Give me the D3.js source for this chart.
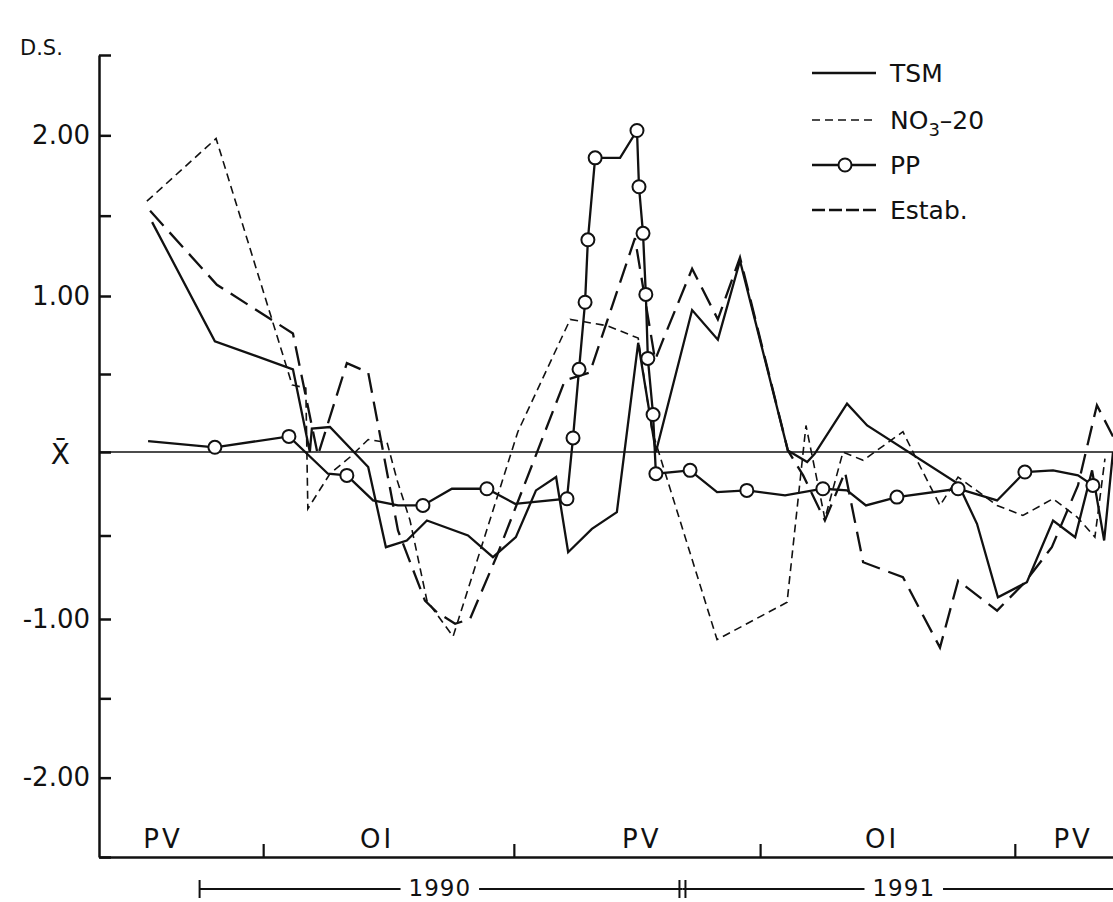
<!DOCTYPE html>
<meta charset="utf-8">
<html>
<script src="https://d3js.org/d3.v7.min.js"></script>
<style>
  body { margin: 0; background: #fff; }
  text { font-family: "DejaVu Sans", sans-serif; fill: #111; }
</style>
<body>
<div id="chart"></div>
<script>

// time in months counted from the start of 1990, values in standard deviations (D.S.)
const tsmMonth = [-1.18, 0.38, 2.32, 2.74, 2.79, 3.24, 4.19, 4.63, 5.15, 5.65, 6.67, 7.29, 7.86, 8.36, 8.86, 9.16, 9.75, 10.37, 10.90, 11.34, 12.24, 12.88, 13.43, 14.62, 15.10, 15.29, 16.09, 16.59, 18.85, 19.32, 19.84, 20.56, 21.21, 21.76, 22.18, 22.48, 22.70];
const tsmValue = [1.46, 0.71, 0.53, 0.00, 0.15, 0.16, -0.09, -0.57, -0.53, -0.41, -0.50, -0.63, -0.51, -0.23, -0.15, -0.60, -0.46, -0.36, 0.70, 0.00, 0.91, 0.72, 1.22, 0.01, -0.06, -0.01, 0.31, 0.17, -0.19, -0.43, -0.87, -0.78, -0.41, -0.51, -0.11, -0.53, 0.00];

const no3Month = [-1.31, 0.41, 2.30, 2.64, 2.69, 3.24, 3.74, 4.19, 4.66, 4.91, 5.23, 5.65, 6.30, 7.91, 9.21, 10.12, 10.90, 11.24, 12.86, 14.60, 15.07, 15.54, 15.99, 16.49, 17.48, 17.83, 18.40, 18.85, 19.82, 20.46, 21.21, 21.81, 22.25, 22.50];
const no3Value = [1.59, 1.98, 0.43, 0.41, -0.34, -0.13, -0.03, 0.08, 0.06, -0.17, -0.41, -0.89, -1.11, 0.13, 0.85, 0.81, 0.73, 0.14, -1.13, -0.90, 0.17, -0.40, 0.00, -0.05, 0.13, -0.05, -0.32, -0.15, -0.32, -0.38, -0.28, -0.39, -0.51, -0.04];

const ppMonth = [-1.28, 0.38, 2.22, 3.19, 3.66, 4.31, 4.93, 5.55, 6.27, 7.14, 7.84, 9.13, 9.28, 9.43, 9.58, 9.65, 9.83, 10.45, 10.87, 10.92, 11.02, 11.09, 11.14, 11.27, 11.34, 12.19, 12.86, 13.60, 14.55, 15.49, 16.09, 16.56, 17.33, 18.85, 19.82, 20.51, 21.21, 21.83, 22.20];
const ppValue = [0.07, 0.03, 0.10, -0.13, -0.14, -0.29, -0.32, -0.32, -0.22, -0.22, -0.31, -0.28, 0.09, 0.53, 0.96, 1.35, 1.86, 1.86, 2.03, 1.68, 1.39, 1.01, 0.60, 0.24, -0.13, -0.11, -0.24, -0.23, -0.26, -0.22, -0.23, -0.32, -0.27, -0.22, -0.29, -0.12, -0.11, -0.14, -0.20];
// 1 = measured (drawn with a circle)
const ppSampled = [0, 1, 1, 0, 1, 0, 0, 1, 0, 1, 0, 1, 1, 1, 1, 1, 1, 0, 1, 1, 1, 1, 1, 1, 1, 1, 0, 1, 0, 1, 0, 0, 1, 1, 0, 1, 0, 0, 1];

const estabMonth = [-1.23, 0.43, 2.32, 2.94, 3.66, 4.19, 4.93, 5.60, 5.90, 6.35, 6.72, 7.39, 9.08, 9.70, 10.82, 11.32, 11.52, 12.24, 12.88, 13.43, 14.62, 15.00, 15.54, 16.04, 16.49, 17.48, 18.40, 18.85, 19.82, 20.51, 21.18, 21.83, 22.30, 22.70];
const estabValue = [1.53, 1.07, 0.76, -0.02, 0.57, 0.51, -0.47, -0.89, -0.96, -1.03, -1.00, -0.62, 0.46, 0.51, 1.36, 0.59, 0.72, 1.17, 0.85, 1.24, 0.01, -0.14, -0.41, -0.12, -0.66, -0.75, -1.18, -0.77, -0.95, -0.78, -0.57, -0.20, 0.30, 0.10];

// axis text
const yTicks = [-2.5, -2, -1.5, -1, -0.5, 0, 0.5, 1, 1.5, 2, 2.5];
const yTickText = ["", "-2.00", "", "-1.00", "", "X\u0304", "", "1.00", "", "2.00", ""];
const seasonBounds = [1.58, 7.81, 13.93, 20.26];
const seasonNames = ["PV", "OI", "PV", "OI", "PV"];
const seasonAt = [-0.91, 4.41, 10.99, 16.96, 21.71];
const yearNames = ["1990", "1991"];
const yearStart = [0, 12];
const yearEnd = [12, 22.7];
const yearAt = [5.97, 17.5];
const legendNames = ["TSM", "NO3-20", "PP", "Estab."];

const width = 1113, height = 902;
const ink = "#111";

const svg = d3.select("#chart").append("svg")
    .attr("width", width)
    .attr("height", height);

const x = d3.scaleLinear().domain([-2.5, 22.7]).range([99, 1113]);
// the printed axis is slightly uneven, so the scale follows its tick marks
const y = d3.scaleLinear().domain([-2.5, -1, 0, 1, 2.5]).range([857, 619, 452, 296, 55]);

// y axis
const gy = svg.append("g")
    .attr("transform", "translate(99,0)")
    .call(d3.axisLeft(y).tickValues(yTicks).tickSize(-12).tickSizeOuter(0).tickPadding(9)
        .tickFormat((d, i) => yTickText[i]));
gy.attr("font-family", null).attr("font-size", null).attr("color", ink);
gy.select(".domain").attr("stroke-width", 2.5);
gy.selectAll(".tick line").attr("stroke-width", 2.5);
gy.selectAll(".tick text").style("font-size", "26px");
gy.selectAll(".tick text").filter(d => d === 0)
    .attr("x", -29).attr("dy", "0.42em").style("font-size", "28px");

// x axis
const gx = svg.append("g")
    .attr("transform", "translate(0,857)")
    .call(d3.axisBottom(x).tickValues(seasonBounds).tickSize(-13).tickSizeOuter(0).tickFormat(""));
gx.attr("color", ink);
gx.select(".domain").attr("stroke-width", 2.5);
gx.selectAll(".tick line").attr("stroke-width", 2.2);

svg.selectAll(".season")
  .data(seasonNames)
  .join("text")
    .attr("class", "season")
    .attr("x", (d, i) => x(seasonAt[i]))
    .attr("y", 848)
    .attr("text-anchor", "middle")
    .style("font-size", "26px")
    .style("letter-spacing", "3px")
    .text(d => d);

// year bar under the axis
const yearY = 889;
yearNames.forEach((name, i) => {
  svg.append("line")
    .attr("x1", x(yearStart[i])).attr("x2", x(yearEnd[i]))
    .attr("y1", yearY).attr("y2", yearY)
    .attr("stroke", ink).attr("stroke-width", 2);
  const t = svg.append("text")
    .attr("x", x(yearAt[i]))
    .attr("y", yearY + 7)
    .attr("text-anchor", "middle")
    .style("font-size", "23px")
    .style("letter-spacing", "1px")
    .text(name);
  const b = t.node().getBBox();
  svg.insert("rect", () => t.node())
    .attr("x", b.x - 8).attr("y", b.y).attr("width", b.width + 16).attr("height", b.height)
    .attr("fill", "#fff");
});
[x(0), x(12) - 3, x(12) + 3].forEach(px => {
  svg.append("line")
    .attr("x1", px).attr("x2", px)
    .attr("y1", yearY - 9).attr("y2", yearY + 9)
    .attr("stroke", ink).attr("stroke-width", 2);
});

svg.append("text")
    .attr("x", 20).attr("y", 55)
    .style("font-size", "21px")
    .text("D.S.");

// mean line
svg.append("line")
    .attr("x1", x(-2.5)).attr("x2", x(22.7))
    .attr("y1", y(0)).attr("y2", y(0))
    .attr("stroke", ink).attr("stroke-width", 1.5);

const line = d3.line().x(d => x(d[0])).y(d => y(d[1]));

const series = [
  { m: tsmMonth, v: tsmValue, dash: null, w: 2.3 },
  { m: no3Month, v: no3Value, dash: "8,5", w: 1.6 },
  { m: ppMonth, v: ppValue, dash: null, w: 2.3 },
  { m: estabMonth, v: estabValue, dash: "20,9", w: 2.3 }
];

series.forEach(s => {
  svg.append("path")
    .datum(d3.zip(s.m, s.v))
    .attr("fill", "none")
    .attr("stroke", ink)
    .attr("stroke-width", s.w)
    .attr("stroke-dasharray", s.dash)
    .attr("stroke-linejoin", "miter")
    .attr("d", line);
});

svg.selectAll(".pp")
  .data(d3.zip(ppMonth, ppValue).filter((d, i) => ppSampled[i]))
  .join("circle")
    .attr("class", "pp")
    .attr("cx", d => x(d[0]))
    .attr("cy", d => y(d[1]))
    .attr("r", 6.5)
    .attr("fill", "#fff")
    .attr("stroke", ink)
    .attr("stroke-width", 2);

// legend
const legend = svg.append("g");
const rowY = [73, 120, 165, 210];
legendNames.forEach((name, i) => {
  const s = series[i];
  legend.append("line")
    .attr("x1", 812).attr("x2", 876)
    .attr("y1", rowY[i]).attr("y2", rowY[i])
    .attr("stroke", ink)
    .attr("stroke-width", s.w)
    .attr("stroke-dasharray", i === 1 ? "8,5" : i === 3 ? "13,4" : null);
  if (i === 2) {
    legend.append("circle")
      .attr("cx", 845).attr("cy", rowY[i]).attr("r", 6.5)
      .attr("fill", "#fff").attr("stroke", ink).attr("stroke-width", 2);
  }
  const t = legend.append("text")
    .attr("x", 890).attr("y", rowY[i] + 9)
    .style("font-size", "25px");
  if (name === "NO3-20") {
    t.append("tspan").text("NO");
    t.append("tspan").attr("dy", 7).style("font-size", "18px").text("3");
    t.append("tspan").attr("dy", -7).text("\u201320");
  } else {
    t.text(name);
  }
});

</script>
</body>
</html>
